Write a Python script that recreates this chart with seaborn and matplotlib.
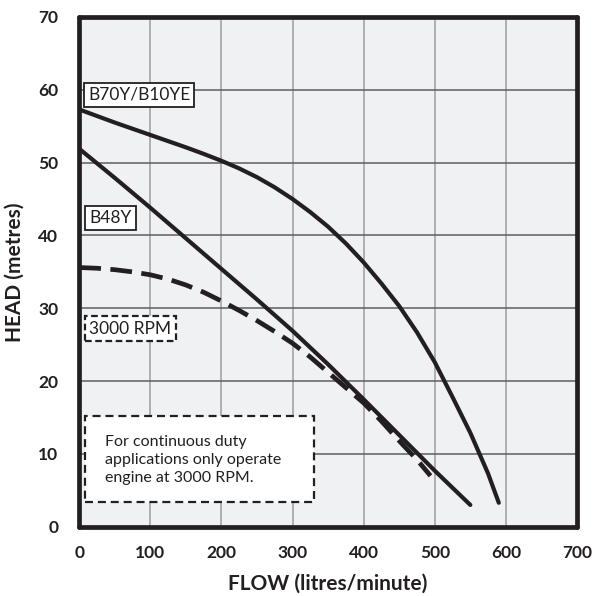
"""
Pump performance curve: head vs flow for B70Y/B10YE, B48Y and the 3000 RPM duty line
"""
import matplotlib
matplotlib.use("Agg")
import matplotlib.pyplot as plt
import seaborn as sns
from matplotlib.patches import Rectangle
from matplotlib.ticker import MultipleLocator

# curve points: flow in litres/minute, head in metres
b70_flow = [0, 25, 50, 75, 100, 125, 150, 175, 200, 225, 250, 275, 300, 325, 350,
            375, 400, 425, 450, 475, 500, 525, 550, 575, 590]
b70_head = [57.3, 56.4, 55.5, 54.65, 53.8, 52.95, 52.1, 51.2, 50.25, 49.2, 48.0, 46.6, 45.0,
            43.2, 41.2, 38.9, 36.3, 33.4, 30.3, 26.7, 22.6, 17.8, 12.9, 7.3, 3.3]

b48_flow = [0, 50, 100, 150, 200, 250, 300, 350, 400, 450, 500, 550]
b48_head = [51.9, 47.9, 43.8, 39.6, 35.4, 31.2, 26.9, 22.3, 17.5, 12.6, 7.7, 3.0]

rpm_flow = [0, 25, 50, 75, 100, 125, 150, 175, 200, 225, 250, 275, 300, 325, 350,
            375, 400, 425, 450, 475, 494]
rpm_head = [35.6, 35.5, 35.3, 35.0, 34.6, 34.0, 33.2, 32.2, 31.0, 29.7, 28.3, 26.8, 25.2,
            23.3, 21.2, 19.1, 17.0, 14.5, 11.8, 9.2, 7.0]

x_ticks = [0, 100, 200, 300, 400, 500, 600, 700]
y_ticks = [0, 10, 20, 30, 40, 50, 60, 70]

INK = "#231f20"

sns.set_theme(style="white")
plt.rcParams["font.family"] = ["Lato", "DejaVu Sans"]

fig = plt.figure(figsize=(5.93, 5.96), dpi=100)
ax = fig.add_axes([0.1337, 0.1161, 0.8393, 0.8554])
ax.set_facecolor("#eff1f3")

ax.set_xlim(0, 700)
ax.set_ylim(0, 70)
ax.set_xticks(x_ticks)
ax.set_yticks(y_ticks)
ax.xaxis.set_minor_locator(MultipleLocator(50))

# grid: vertical lines lighter than horizontal ones
for xv in x_ticks[1:-1]:
    ax.axvline(xv, color="#a3a3a3", lw=1.2, zorder=0.5)
for yv in y_ticks[1:-1]:
    ax.axhline(yv, color="#5e5e5e", lw=1.1, zorder=0.5)

sns.lineplot(x=b70_flow, y=b70_head, ax=ax, color=INK, lw=3.0, sort=False,
             solid_capstyle="round", solid_joinstyle="round", zorder=3)
sns.lineplot(x=b48_flow, y=b48_head, ax=ax, color=INK, lw=3.0, sort=False,
             solid_capstyle="round", solid_joinstyle="round", zorder=3)
sns.lineplot(x=rpm_flow, y=rpm_head, ax=ax, color=INK, lw=3.4, sort=False,
             linestyle=(0, (4.6, 2.0)), zorder=3)

for s in ax.spines.values():
    s.set_color(INK)
    s.set_linewidth(3.4)
    s.set_capstyle("round")
    s.set_zorder(5)

ax.tick_params(axis="x", which="both", direction="in", length=3, width=3,
               color=INK, pad=13, labelsize=12.5, labelcolor=INK)
ax.tick_params(axis="y", which="both", length=0, pad=15, labelsize=12.5, labelcolor=INK)
for lab in ax.get_xticklabels() + ax.get_yticklabels():
    lab.set_fontweight("bold")

ax.set_xlabel("FLOW (litres/minute)", fontsize=15, fontweight="bold", color=INK, labelpad=9)
ax.set_ylabel("HEAD (metres)", fontsize=15, fontweight="bold", color=INK, labelpad=10)

# curve labels
ax.text(84, 59.3, "B70Y/B10YE", fontsize=12.5, color=INK, ha="center", va="center", zorder=4,
        bbox=dict(boxstyle="square,pad=0.25", fc="white", ec=INK, lw=1.3))
ax.text(43.5, 42.4, "B48Y", fontsize=12.5, color=INK, ha="center", va="center", zorder=4,
        bbox=dict(boxstyle="square,pad=0.25", fc="white", ec=INK, lw=1.3))
ax.text(72, 27.2, "3000 RPM", fontsize=12.5, color=INK, ha="center", va="center", zorder=4,
        bbox=dict(boxstyle="square,pad=0.25", fc="white", ec=INK, lw=1.6, ls=(0, (3, 1.6))))

# duty note
ax.add_patch(Rectangle((8, 3.4), 322, 11.8, fc="white", ec=INK, lw=1.6,
                       ls=(0, (3.6, 2.2)), zorder=4))
ax.text(36, 9.2, "For continuous duty\napplications only operate\nengine at 3000 RPM.",
        fontsize=11.5, color=INK, ha="left", va="center", linespacing=1.35, zorder=4.5)

fig.savefig("out.png", dpi=100)
